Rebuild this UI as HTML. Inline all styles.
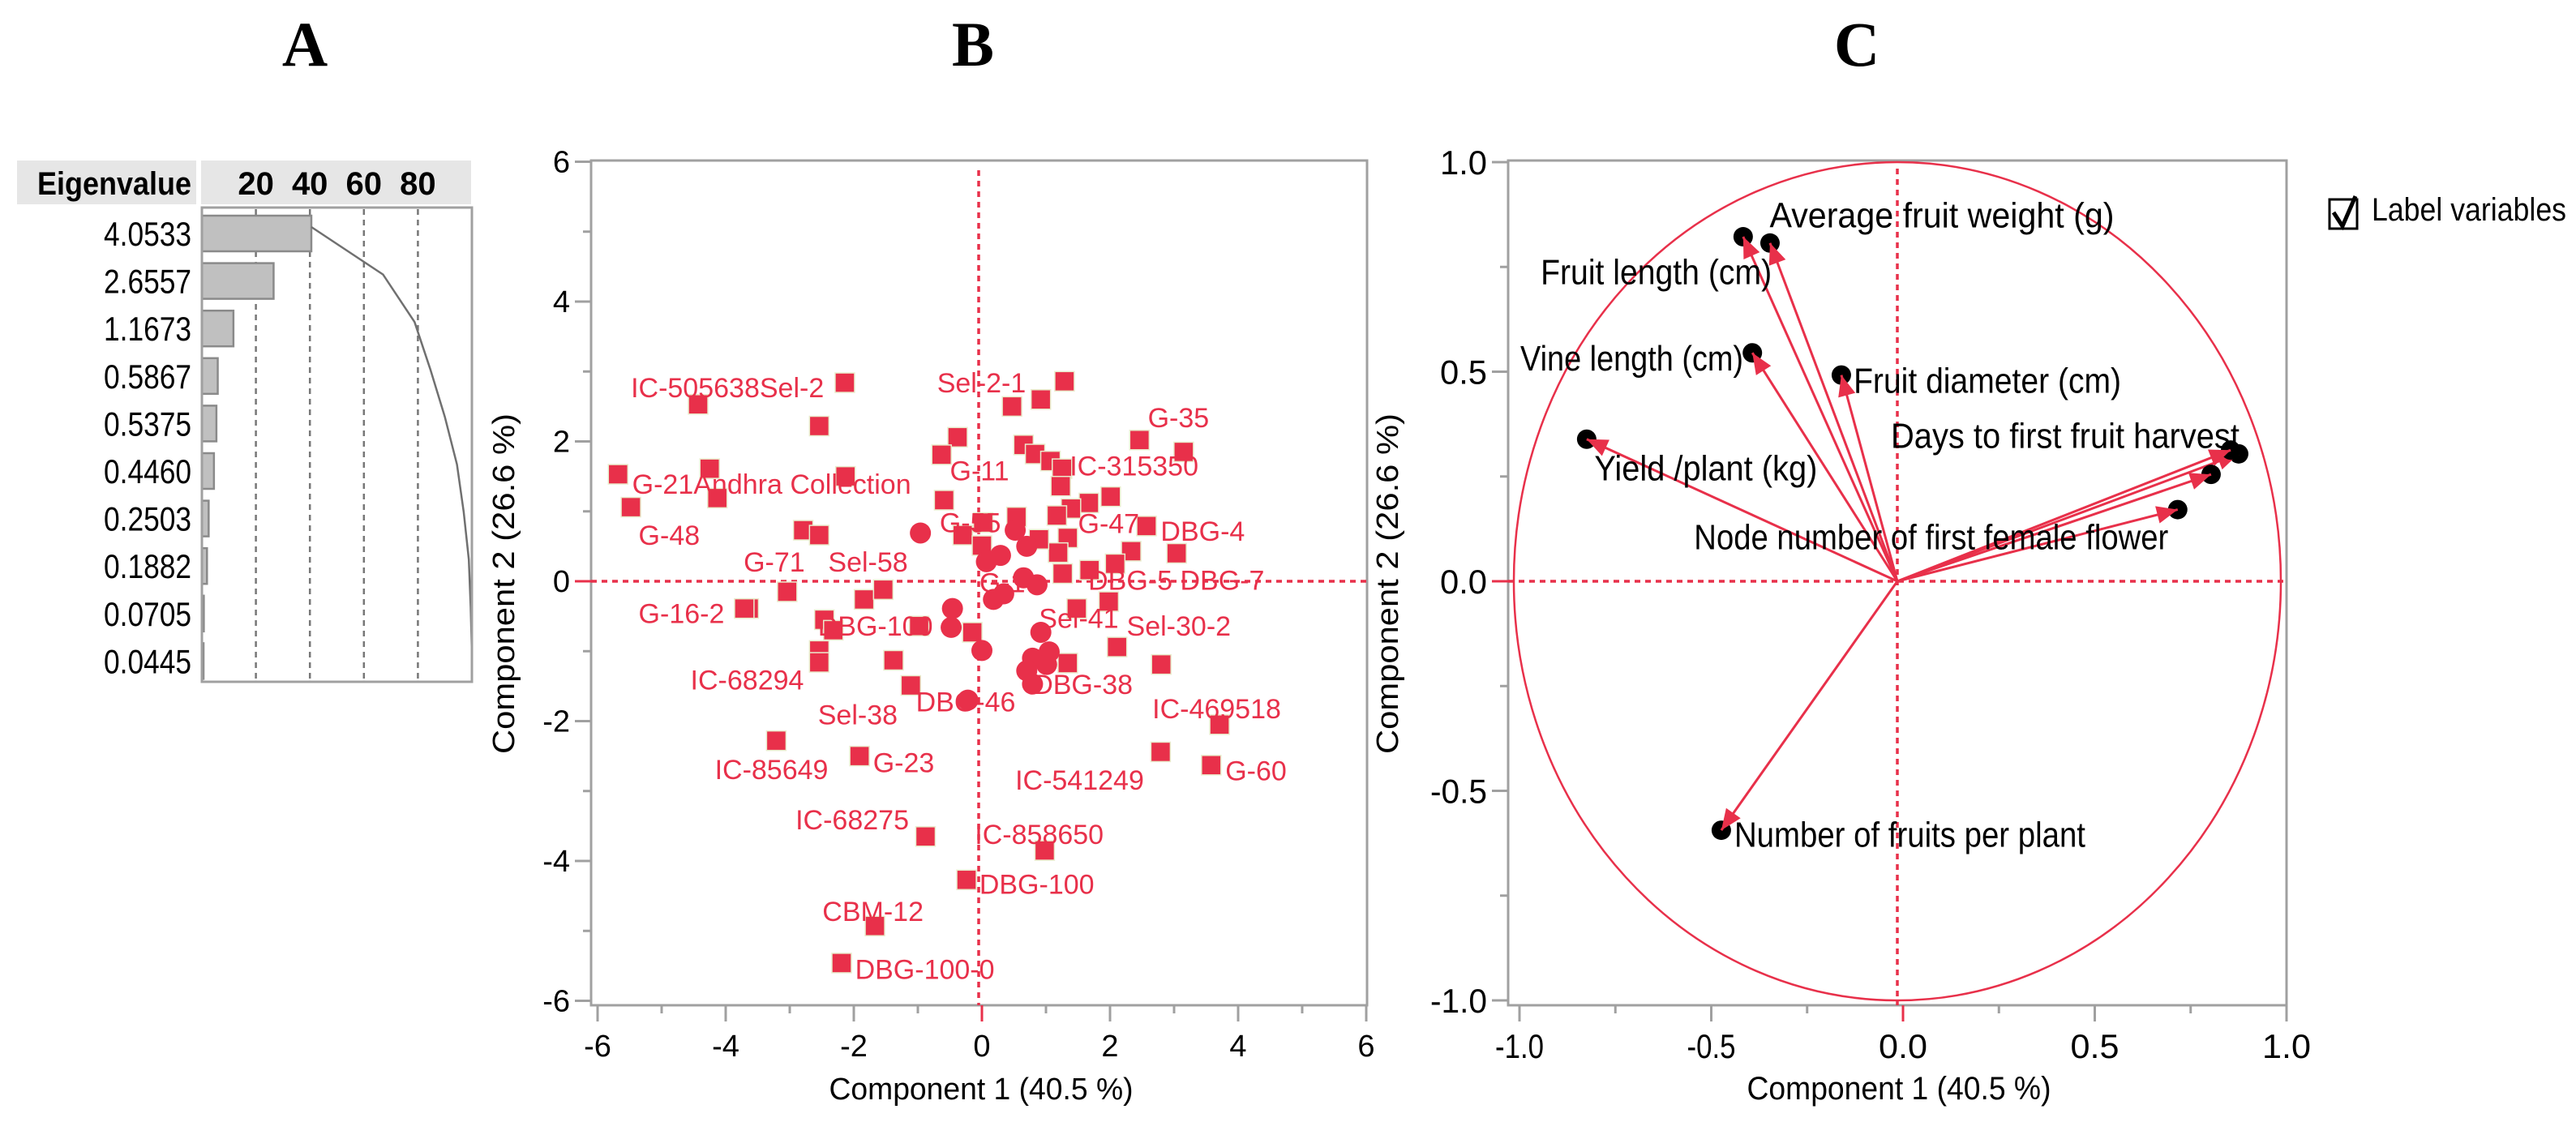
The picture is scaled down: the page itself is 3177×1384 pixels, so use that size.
<!DOCTYPE html>
<html><head><meta charset="utf-8"><style>
html,body{margin:0;padding:0;background:#fff;}
svg{display:block;font-family:"Liberation Sans",sans-serif;}
</style></head><body>
<svg id="fig" width="3177" height="1384" viewBox="0 0 3177 1384" xmlns="http://www.w3.org/2000/svg">
<text x="376" y="81" font-family="Liberation Serif,serif" font-weight="bold" font-size="78" text-anchor="middle">A</text>
<text x="1200" y="81" font-family="Liberation Serif,serif" font-weight="bold" font-size="78" text-anchor="middle">B</text>
<text x="2290" y="81" font-family="Liberation Serif,serif" font-weight="bold" font-size="78" text-anchor="middle">C</text>
<g id="pa"></g>
<g id="pb"></g>
<g id="pc"></g>
<g>
<rect x="2873" y="246" width="34" height="36" fill="#fff" stroke="#000" stroke-width="3"/>
<path d="M2878 262 L2889 279 L2905 242" fill="none" stroke="#000" stroke-width="5"/>
<text x="2925" y="272" font-size="40" textLength="240" lengthAdjust="spacingAndGlyphs">Label variables</text>
</g>
</svg>
<script>
// Panel A data
const eigenvalues = [4.0533, 2.6557, 1.1673, 0.5867, 0.5375, 0.4460, 0.2503, 0.1882, 0.0705, 0.0445];
const eigenLabels = ["4.0533","2.6557","1.1673","0.5867","0.5375","0.4460","0.2503","0.1882","0.0705","0.0445"];
const percentTicks = [20, 40, 60, 80];
// Panel B data
const scoreX = [-4.43,-2.14,-2.54,-5.68,-4.25,-4.13,-5.48,-2.13,-2.79,-2.54,-3.04,-3.64,-3.71,-2.46,-2.32,-2.54,-2.54,-1.84,-1.54,-1.38,-1.11,-0.98,-3.21,-1.91,-0.88,-1.67,-2.19,-0.24,0.98,2.79,3.58,3.71,2.80,2.11,1.98,1.48,1.34,3.04,2.33,2.08,1.68,2.57,2.01,1.67,1.39,2.46,3.15,1.29,0.92,0.47,-0.38,-0.63,-0.59,-0.30,0.65,0.83,1.07,1.25,1.23,1.17,0.54,1.34,1.19,1.26,0.89,0.02,0.00,-0.15];
const scoreY = [2.53,2.84,2.22,1.53,1.61,1.19,1.06,1.50,0.73,0.66,-0.15,-0.39,-0.39,-0.55,-0.70,-0.99,-1.16,-0.26,-0.12,-1.13,-1.49,-0.64,-2.28,-2.50,-3.65,-4.93,-5.46,-4.27,-3.85,-2.44,-2.63,-2.05,-1.19,-0.94,-0.29,-0.39,-1.17,0.40,0.43,0.25,0.16,0.79,1.21,1.12,1.04,2.02,1.85,2.86,2.60,2.50,2.06,1.81,1.16,0.66,1.95,1.82,1.72,1.61,1.36,0.94,0.92,0.62,0.41,0.11,0.60,0.84,0.51,-0.73];
const circleX = [-0.96,-0.46,-0.48,0.00,-0.22,0.07,0.29,0.18,0.34,0.65,0.86,0.52,0.70,0.79,0.92,1.05,0.70,0.79,1.01];
const circleY = [0.69,-0.39,-0.66,-0.99,-1.70,0.28,0.37,-0.26,-0.18,0.05,-0.05,0.73,0.50,-1.10,-0.73,-1.01,-1.28,-1.47,-1.19];
const obsLabels = ["IC-505638Sel-2","Sel-2-1","G-35","IC-315350","G-11","G-21Andhra Collection","G-48","G-55","G-47","DBG-4","G-71","Sel-58","G-1","DBG-5 DBG-7","G-16-2","DBG-100","Sel-41","Sel-30-2","IC-68294","DBG-46","DBG-38","Sel-38","IC-469518","IC-85649","G-23","IC-541249","G-60","IC-68275","IC-858650","DBG-100","CBM-12","DBG-100-0"];
const obsLabelX = [-5.48,-0.70,2.59,1.37,-0.50,-5.46,-5.36,-0.66,1.50,2.79,-3.72,-2.40,-0.04,1.66,-5.36,-2.56,0.89,2.26,-4.55,-1.03,0.80,-2.56,2.66,-4.17,-1.70,0.52,3.80,-2.91,-0.11,-0.04,-2.49,-1.98];
const obsLabelY = [2.77,2.84,2.34,1.65,1.58,1.39,0.66,0.84,0.83,0.72,0.28,0.28,-0.02,0.02,-0.46,-0.64,-0.53,-0.64,-1.41,-1.72,-1.47,-1.91,-1.82,-2.69,-2.59,-2.84,-2.71,-3.41,-3.62,-4.33,-4.72,-5.55];
const scoreTicks = [-6,-4,-2,0,2,4,6];
// Panel C data
const loadX = [-0.332,-0.402,-0.378,-0.146,-0.810,0.890,0.869,0.818,0.731,-0.459];
const loadY = [0.807,0.822,0.545,0.492,0.339,0.304,0.313,0.255,0.171,-0.594];
const varLabels = ["Average fruit weight (g)","Fruit length (cm)","Vine length (cm)","Fruit diameter (cm)","Yield /plant (kg)","Days to first fruit harvest","Node number of first female flower","Number of fruits per plant"];
const varLabelX = [-0.333,-0.93,-0.983,-0.114,-0.790,-0.017,-0.53,-0.425];
const varLabelY = [0.873,0.738,0.532,0.479,0.270,0.347,0.105,-0.604];
const varLabelW = [425,285,275,330,275,430,585,433];
const loadTicks = [-1.0,-0.5,0.0,0.5,1.0];

const NS="http://www.w3.org/2000/svg";
function mk(parent,tag,attrs,txt){const e=document.createElementNS(NS,tag);for(const k in attrs)e.setAttribute(k,attrs[k]);if(txt!==undefined)e.textContent=txt;parent.appendChild(e);return e;}
const RED="#e8304a", GRID="#a0a0a0";

// ---------- Panel A ----------
(function(){
const g=document.getElementById('pa');
const px=p=>249+p*3.33, rowY=i=>288+i*58.6;
let e=mk(g,'rect',{x:21,y:198,width:560,height:54,fill:'#e6e6e6'});


mk(g,'rect',{x:242,y:198,width:6,height:54,fill:'#fff'});
e=mk(g,'text',{x:236,y:240,'font-size':40,'font-weight':'bold','text-anchor':'end',textLength:190,lengthAdjust:'spacingAndGlyphs'},'Eigenvalue');


percentTicks.forEach(t=>{
 e=mk(g,'text',{x:px(t),y:240,'font-size':40,'font-weight':'bold','text-anchor':'middle'},String(t));
 
 
 e=mk(g,'line',{x1:px(t),y1:258,x2:px(t),y2:840,stroke:'#777','stroke-width':2.5,'stroke-dasharray':'7 6'});
 
 
});
const total=eigenvalues.reduce((a,b)=>a+b,0);
let cum=0;const pts=[];
eigenvalues.forEach((v,i)=>{
 const pct=v/total*100;cum+=pct;
 e=mk(g,'rect',{x:249,y:rowY(i)-22,width:Math.max(px(pct)-249,2),height:44,fill:'#c0c0c0',stroke:'#8a8a8a','stroke-width':2.5});
 
 
 e=mk(g,'text',{x:236,y:rowY(i)+15,'font-size':42,'text-anchor':'end',textLength:108,lengthAdjust:'spacingAndGlyphs'},eigenLabels[i]);
 
 
 pts.push(px(cum).toFixed(1)+','+(rowY(i)-8).toFixed(1));
});
e=mk(g,'polyline',{points:pts.join(' '),fill:'none',stroke:'#707070','stroke-width':2.5});


e=mk(g,'rect',{x:249,y:256,width:333,height:585,fill:'none',stroke:'#a0a0a0','stroke-width':3});


})();

// ---------- Panel B ----------
(function(){
const g=document.getElementById('pb');
const X=v=>1211+v*79, Y=v=>717-v*86.25;
const L=729,R=1686,T=198,B=1240;
let e=mk(g,'rect',{x:L,y:T,width:R-L,height:B-T,fill:'#fff',stroke:GRID,'stroke-width':3});


scoreTicks.forEach(t=>{
 e=mk(g,'line',{x1:X(t),y1:B,x2:X(t),y2:B+20,stroke:t===0?RED:GRID,'stroke-width':3});
 
 
 if(t<6){mk(g,'line',{x1:X(t+1),y1:B,x2:X(t+1),y2:B+10,stroke:GRID,'stroke-width':3});}
 e=mk(g,'text',{x:X(t),y:1303,'font-size':38,'text-anchor':'middle'},String(t));
 
 
 e=mk(g,'line',{x1:L-20,y1:Y(t),x2:L,y2:Y(t),stroke:t===0?RED:GRID,'stroke-width':3});
 
 
 if(t<6){mk(g,'line',{x1:L-10,y1:Y(t+1),x2:L,y2:Y(t+1),stroke:GRID,'stroke-width':3});}
 e=mk(g,'text',{x:L-26,y:Y(t)+13,'font-size':38,'text-anchor':'end'},String(t));
 
 
});
e=mk(g,'line',{x1:L,y1:Y(0),x2:R,y2:Y(0),stroke:RED,'stroke-width':3.5,'stroke-dasharray':'7 6'});


e=mk(g,'line',{x1:X(0)-4,y1:T+12,x2:X(0)-4,y2:B,stroke:RED,'stroke-width':3.5,'stroke-dasharray':'7 6'});


scoreX.forEach((v,i)=>{
 e=mk(g,'rect',{x:X(v)-12,y:Y(scoreY[i])-12,width:24,height:24,fill:RED,stroke:'#e9eccd','stroke-width':1.5});
 
 
});
circleX.forEach((v,i)=>{
 e=mk(g,'circle',{cx:X(v),cy:Y(circleY[i]),r:13,fill:RED});
 
 
});
obsLabels.forEach((s,i)=>{
 e=mk(g,'text',{x:X(obsLabelX[i]),y:Y(obsLabelY[i])+12,'font-size':34,fill:RED},s);
 
 
});
e=mk(g,'text',{x:1210,y:1356,'font-size':38,'text-anchor':'middle',textLength:375,lengthAdjust:'spacingAndGlyphs'},'Component 1  (40.5 %)');


e=mk(g,'text',{x:0,y:0,'font-size':38,'text-anchor':'middle',transform:'translate(634,720) rotate(-90)',textLength:420,lengthAdjust:'spacingAndGlyphs'},'Component 2  (26.6 %)');


})();

// ---------- Panel C ----------
(function(){
const g=document.getElementById('pc');
const X=v=>2340+v*473, Y=v=>717-v*517;
const L=1860,R=2820,T=198,B=1240;
let e=mk(g,'rect',{x:L,y:T,width:R-L,height:B-T,fill:'#fff',stroke:GRID,'stroke-width':3});


loadTicks.forEach((t,i)=>{
 e=mk(g,'line',{x1:X(t)+7,y1:B,x2:X(t)+7,y2:B+20,stroke:t===0?RED:GRID,'stroke-width':3});
 
 
 if(i<4){mk(g,'line',{x1:X(t+0.25)+7,y1:B,x2:X(t+0.25)+7,y2:B+10,stroke:GRID,'stroke-width':3});}
 e=mk(g,'text',{x:X(t)+7,y:1305,'font-size':42,'text-anchor':'middle',textLength:60,lengthAdjust:'spacingAndGlyphs'},t.toFixed(1));
 
 
 e=mk(g,'line',{x1:L-20,y1:Y(t),x2:L,y2:Y(t),stroke:t===0?RED:GRID,'stroke-width':3});
 
 
 if(i<4){mk(g,'line',{x1:L-10,y1:Y(t+0.25),x2:L,y2:Y(t+0.25),stroke:GRID,'stroke-width':3});}
 e=mk(g,'text',{x:L-26,y:Y(t)+15,'font-size':42,'text-anchor':'end',textLength:t<0?70:58,lengthAdjust:'spacingAndGlyphs'},t.toFixed(1));
 
 
});
e=mk(g,'line',{x1:L,y1:Y(0),x2:R,y2:Y(0),stroke:RED,'stroke-width':3.5,'stroke-dasharray':'7 6'});


e=mk(g,'line',{x1:X(0),y1:T+10,x2:X(0),y2:B,stroke:RED,'stroke-width':3.5,'stroke-dasharray':'7 6'});


e=mk(g,'ellipse',{cx:X(0),cy:Y(0),rx:473,ry:517,fill:'none',stroke:RED,'stroke-width':2.5});


loadX.forEach((v,i)=>{
 const x=X(v),y=Y(loadY[i]);
 e=mk(g,'circle',{cx:x,cy:y,r:12,fill:'#000'});
 
 
 e=mk(g,'line',{x1:X(0),y1:Y(0),x2:x,y2:y,stroke:RED,'stroke-width':3});
 
 
 const a=Math.atan2(y-Y(0),x-X(0)),h=28,w=0.4;
 e=mk(g,'polygon',{points:[x,y,x-h*Math.cos(a-w),y-h*Math.sin(a-w),x-h*Math.cos(a+w),y-h*Math.sin(a+w)].map(n=>n.toFixed(1)).join(' '),fill:RED});
 
 
});
varLabels.forEach((s,i)=>{
 e=mk(g,'text',{x:X(varLabelX[i]),y:Y(varLabelY[i])+15,'font-size':44,textLength:varLabelW[i],lengthAdjust:'spacingAndGlyphs'},s);
 
 
});
e=mk(g,'text',{x:2342,y:1356,'font-size':40,'text-anchor':'middle',textLength:375,lengthAdjust:'spacingAndGlyphs'},'Component 1  (40.5 %)');


e=mk(g,'text',{x:0,y:0,'font-size':38,'text-anchor':'middle',transform:'translate(1724,720) rotate(-90)',textLength:420,lengthAdjust:'spacingAndGlyphs'},'Component 2  (26.6 %)');


})();
</script>
</body></html>
